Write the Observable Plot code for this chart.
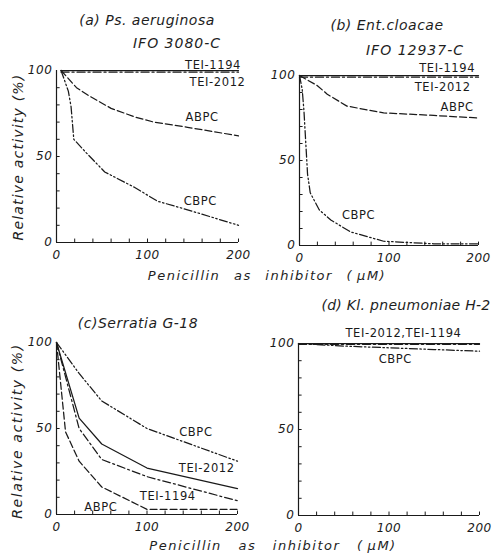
<!DOCTYPE html>
<html>
<head>
<meta charset="utf-8">
<script src="https://cdn.jsdelivr.net/npm/d3@7"></script>
<script src="https://cdn.jsdelivr.net/npm/@observablehq/plot@0.6"></script>
<style>
  html, body { margin: 0; padding: 0; background: #fff; }
  #root { position: relative; width: 503px; height: 557px; overflow: hidden; color: #1e1e1e;
          font-family: "DejaVu Sans", sans-serif; font-style: italic; }
  .lbl { position: absolute; white-space: pre; line-height: 1; transform: translate(-50%, -50%); }
  .panel { position: absolute; }
</style>
</head>
<body>
<div id="root"></div>
<script>
// ---------- data ----------
const xTickLabels = [0, 100, 200];
const yTickLabels = [0, 50, 100];
const xMinorTicks = [20, 40, 60, 80, 100, 120, 140, 160, 180, 200];
const yMinorTicks = [10, 20, 30, 40, 50, 60, 70, 80, 90];

// (a) Ps. aeruginosa IFO 3080-C
const aTEI1194X = [5, 200],  aTEI1194Y = [100, 100];
const aTEI2012X = [5, 200],  aTEI2012Y = [99, 99];
const aABPCX = [5, 22, 35, 60, 86, 107, 144, 200];
const aABPCY = [100, 90, 85.5, 78, 73, 70, 67, 62];
const aCBPCX = [5, 9, 13, 16, 19, 33, 53, 86, 111, 144, 200];
const aCBPCY = [100, 94, 88, 79, 60, 52, 41, 32, 24, 19, 10];

// (b) Ent. cloacae IFO 12937-C
const bTEI1194X = [0, 200],  bTEI1194Y = [100, 100];
const bTEI2012X = [0, 200],  bTEI2012Y = [99, 99];
const bABPCX = [0, 20, 31, 53, 94, 150, 200];
const bABPCY = [100, 94, 89, 82, 78, 76.5, 75];
const bCBPCX = [0, 3, 5, 9, 12, 22, 35, 57, 94, 150, 200];
const bCBPCY = [100, 92, 79, 42, 31, 21, 15, 8, 2.5, 1, 1];

// (c) Serratia G-18
const cX = [0, 25, 50, 100, 200];
const cCBPCY = [100, 82, 66, 50, 31];
const cTEI2012Y = [100, 56, 41, 27, 15];
const cTEI1194Y = [100, 50, 32, 22, 8];
const cABPCX = [0, 10, 25, 50, 100, 200];
const cABPCY = [100, 48, 31, 16, 3, 3];

// (d) Kl. pneumoniae H-2
const dTEI2012X = [0, 200], dTEI2012Y = [100, 100];
const dTEI1194X = [0, 200], dTEI1194Y = [99.5, 99.5];
const dCBPCX = [0, 50, 100, 150, 200];
const dCBPCY = [100, 98.5, 97.5, 96.5, 95.5];

// curve labels (text, x, y in data units)
const aLabels = [["TEI-1194", 172, 103], ["TEI-2012", 177, 93], ["ABPC", 160, 73], ["CBPC", 158, 24]];
const bLabels = [["TEI-1194", 165, 104], ["TEI-2012", 160, 93], ["ABPC", 176, 81], ["CBPC", 66, 18]];
const cLabels = [["CBPC", 154, 48], ["TEI-2012", 166, 27], ["TEI-1194", 123, 10.5], ["ABPC", 49, 4]];
const dLabels = [["TEI-2012,TEI-1194", 116, 106], ["CBPC", 107, 91]];

// ---------- drawing ----------
const DASH = {solid: null, dashed: "7,3", dashdot: "8,3,2,3", dashdotdot: "8,2.5,1.5,2.5,1.5,2.5"};
const INK = "#1a1a1a";

function series(xs, ys, style) {
  const pts = xs.map((x, i) => ({x, y: ys[i]}));
  return Plot.line(pts, {x: "x", y: "y", stroke: INK, strokeWidth: 1.25,
    strokeDasharray: DASH[style] ?? undefined});
}

function panel(opts) {
  const {width, height, mt, mr, mb, ml, lines, labels} = opts;
  return Plot.plot({
    width, height,
    marginTop: mt, marginRight: mr, marginBottom: mb, marginLeft: ml,
    x: {domain: [0, 200]},
    y: {domain: [0, 100]},
    style: {background: "transparent", overflow: "visible", color: INK,
            fontFamily: "DejaVu Sans", fontStyle: "italic", fontSize: "12px", letterSpacing: "0.6px"},
    marks: [
      Plot.ruleX([0], {y1: 0, y2: 100, stroke: INK, strokeWidth: 1.2}),
      Plot.ruleY([0], {x1: 0, x2: 200, stroke: INK, strokeWidth: 1.2}),
      Plot.ruleY(yMinorTicks, {x1: 0, x2: 4, stroke: INK, strokeWidth: 1}),
      Plot.ruleX(xMinorTicks, {y1: 0, y2: 2, stroke: INK, strokeWidth: 1}),
      Plot.axisY({ticks: yTickLabels, tickSize: 0, tickPadding: 4, label: null, fontSize: 12}),
      Plot.axisX({ticks: xTickLabels, tickSize: 0, tickPadding: 8, label: null, fontSize: 12}),
      ...lines,
      Plot.text(labels, {x: d => d[1], y: d => d[2], text: d => d[0], fill: INK,
        fontSize: 11.5, fontStyle: "normal", textAnchor: "middle"})
    ]
  });
}

const root = document.getElementById("root");

function place(node, left, top) {
  const wrap = document.createElement("div");
  wrap.className = "panel";
  wrap.style.left = left + "px";
  wrap.style.top = top + "px";
  wrap.appendChild(node);
  root.appendChild(wrap);
}

function label(text, cx, cy, size, extra = {}) {
  const d = document.createElement("div");
  d.className = "lbl";
  d.textContent = text;
  d.style.left = cx + "px";
  d.style.top = cy + "px";
  d.style.fontSize = size + "px";
  Object.assign(d.style, extra);
  root.appendChild(d);
}

place(panel({width: 250, height: 215, mt: 15, mr: 12, mb: 28, ml: 56, labels: aLabels, lines: [
  series(aTEI1194X, aTEI1194Y, "solid"),
  series(aTEI2012X, aTEI2012Y, "dashdot"),
  series(aABPCX, aABPCY, "dashed"),
  series(aCBPCX, aCBPCY, "dashdotdot")
]}), 0, 55);

place(panel({width: 253, height: 215, mt: 20, mr: 25, mb: 25, ml: 49, labels: bLabels, lines: [
  series(bTEI1194X, bTEI1194Y, "solid"),
  series(bTEI2012X, bTEI2012Y, "dashdot"),
  series(bABPCX, bABPCY, "dashed"),
  series(bCBPCX, bCBPCY, "dashdotdot")
]}), 250, 55);

place(panel({width: 250, height: 213, mt: 15, mr: 13, mb: 26, ml: 56, labels: cLabels, lines: [
  series(cX, cCBPCY, "dashdotdot"),
  series(cX, cTEI2012Y, "solid"),
  series(cX, cTEI1194Y, "dashdot"),
  series(cABPCX, cABPCY, "dashed")
]}), 0, 327);

place(panel({width: 253, height: 220, mt: 23, mr: 24, mb: 25, ml: 48, labels: dLabels, lines: [
  series(dTEI2012X, dTEI2012Y, "solid"),
  series(dTEI1194X, dTEI1194Y, "dashdot"),
  series(dCBPCX, dCBPCY, "dashdotdot")
]}), 250, 320);

// titles
label("(a) Ps. aeruginosa", 147, 20, 14, {letterSpacing: "0.5px"});
label("IFO 3080-C", 177, 43, 14, {letterSpacing: "1px"});
label("(b) Ent.cloacae", 387, 25, 14, {letterSpacing: "0.5px"});
label("IFO 12937-C", 415, 50, 14, {letterSpacing: "1px"});
label("(c)Serratia G-18", 138, 323, 14, {letterSpacing: "0.5px"});
label("(d) Kl. pneumoniae H-2", 406, 305, 14, {letterSpacing: "0.3px"});

// axis titles
label("Relative activity (%)", 18, 157, 14, {letterSpacing: "1.2px", transform: "translate(-50%, -50%) rotate(-90deg)"});
label("Relative activity (%)", 17, 431, 14, {letterSpacing: "1.6px", transform: "translate(-50%, -50%) rotate(-90deg)"});
label("Penicillin as inhibitor (\u2009μM)", 267, 275, 13, {letterSpacing: "1.5px", wordSpacing: "8px"});
label("Penicillin as inhibitor (\u2009μM)", 273, 545, 13, {letterSpacing: "1.5px", wordSpacing: "11px"});
</script>
</body>
</html>
